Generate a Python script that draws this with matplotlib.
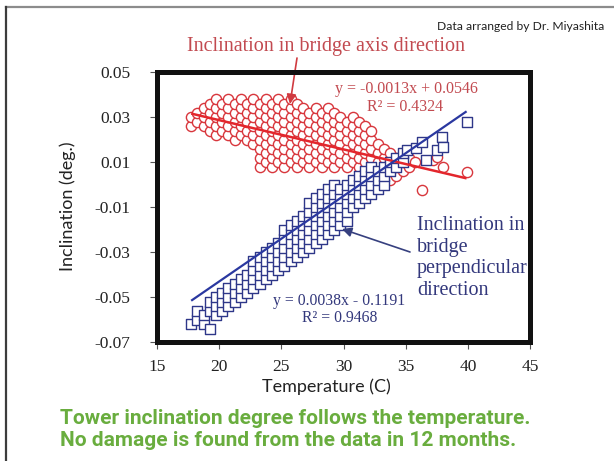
import matplotlib
matplotlib.use("Agg")
import matplotlib.pyplot as plt
from matplotlib.lines import Line2D
from matplotlib.ticker import FixedLocator, FixedFormatter

# Tower inclination readings against temperature (12 months of monitoring)

# Inclination in bridge axis direction
red_temp = [
    17.75, 17.75,
    18.25, 18.25,
    18.75, 18.75, 18.75,
    19.25, 19.25, 19.25, 19.25,
    19.75, 19.75, 19.75, 19.75, 19.75,
    20.25, 20.25, 20.25, 20.25,
    20.75, 20.75, 20.75, 20.75, 20.75,
    21.25, 21.25, 21.25, 21.25, 21.25,
    21.75, 21.75, 21.75, 21.75, 21.75,
    22.25, 22.25, 22.25, 22.25, 22.25,
    22.75, 22.75, 22.75, 22.75, 22.75, 22.75,
    23.25, 23.25, 23.25, 23.25, 23.25, 23.25, 23.25, 23.25,
    23.75, 23.75, 23.75, 23.75, 23.75, 23.75, 23.75, 23.75,
    24.25, 24.25, 24.25, 24.25, 24.25, 24.25, 24.25, 24.25,
    24.75, 24.75, 24.75, 24.75, 24.75, 24.75, 24.75, 24.75,
    25.25, 25.25, 25.25, 25.25, 25.25, 25.25, 25.25, 25.25,
    25.75, 25.75, 25.75, 25.75, 25.75, 25.75, 25.75, 25.75,
    26.25, 26.25, 26.25, 26.25, 26.25, 26.25, 26.25, 26.25,
    26.75, 26.75, 26.75, 26.75, 26.75, 26.75, 26.75,
    27.25, 27.25, 27.25, 27.25, 27.25, 27.25, 27.25,
    27.75, 27.75, 27.75, 27.75, 27.75, 27.75, 27.75,
    28.25, 28.25, 28.25, 28.25, 28.25, 28.25, 28.25,
    28.75, 28.75, 28.75, 28.75, 28.75, 28.75, 28.75,
    29.25, 29.25, 29.25, 29.25, 29.25, 29.25, 29.25,
    29.75, 29.75, 29.75, 29.75, 29.75, 29.75,
    30.25, 30.25, 30.25, 30.25, 30.25, 30.25,
    30.75, 30.75, 30.75, 30.75, 30.75, 30.75,
    31.25, 31.25, 31.25, 31.25, 31.25, 31.25,
    31.75, 31.75, 31.75, 31.75, 31.75, 31.75,
    32.25, 32.25, 32.25, 32.25, 32.25, 32.25,
    32.75, 32.75, 32.75, 32.75, 32.75,
    33.25, 33.25, 33.25, 33.25,
    33.75, 33.75, 33.75, 33.75,
    34.25, 34.25, 34.25,
    34.75, 34.75,
    35.25, 35.25,
    35.75,
    36.3, 37.2, 37.5, 38.0, 39.9,
]
red_incl = [
    0.026, 0.030,
    0.028, 0.032,
    0.026, 0.030, 0.034,
    0.024, 0.028, 0.032, 0.036,
    0.022, 0.026, 0.030, 0.034, 0.038,
    0.024, 0.028, 0.032, 0.036,
    0.022, 0.026, 0.030, 0.034, 0.038,
    0.020, 0.024, 0.028, 0.032, 0.036,
    0.022, 0.026, 0.030, 0.034, 0.038,
    0.020, 0.024, 0.028, 0.032, 0.036,
    0.018, 0.022, 0.026, 0.030, 0.034, 0.038,
    0.008, 0.012, 0.016, 0.020, 0.024, 0.028, 0.032, 0.036,
    0.010, 0.014, 0.018, 0.022, 0.026, 0.030, 0.034, 0.038,
    0.008, 0.012, 0.016, 0.020, 0.024, 0.028, 0.032, 0.036,
    0.010, 0.014, 0.018, 0.022, 0.026, 0.030, 0.034, 0.038,
    0.008, 0.012, 0.016, 0.020, 0.024, 0.028, 0.032, 0.036,
    0.010, 0.014, 0.018, 0.022, 0.026, 0.030, 0.034, 0.038,
    0.008, 0.012, 0.016, 0.020, 0.024, 0.028, 0.032, 0.036,
    0.010, 0.014, 0.018, 0.022, 0.026, 0.030, 0.034,
    0.008, 0.012, 0.016, 0.020, 0.024, 0.028, 0.032,
    0.010, 0.014, 0.018, 0.022, 0.026, 0.030, 0.034,
    0.008, 0.012, 0.016, 0.020, 0.024, 0.028, 0.032,
    0.010, 0.014, 0.018, 0.022, 0.026, 0.030, 0.034,
    0.008, 0.012, 0.016, 0.020, 0.024, 0.028, 0.032,
    0.010, 0.014, 0.018, 0.022, 0.026, 0.030,
    0.008, 0.012, 0.016, 0.020, 0.024, 0.028,
    0.010, 0.014, 0.018, 0.022, 0.026, 0.030,
    0.008, 0.012, 0.016, 0.020, 0.024, 0.028,
    0.006, 0.010, 0.014, 0.018, 0.022, 0.026,
    0.004, 0.008, 0.012, 0.016, 0.020, 0.024,
    0.002, 0.006, 0.010, 0.014, 0.018,
    0.004, 0.008, 0.012, 0.016,
    0.002, 0.006, 0.010, 0.014,
    0.004, 0.008, 0.012,
    0.006, 0.010,
    0.008, 0.012,
    0.010,
    -0.0024, 0.0109, 0.0122, 0.0078, 0.0056,
]

# Inclination in bridge perpendicular direction
blue_temp = [
    17.75,
    18.25, 18.25,
    18.75, 18.75,
    19.25, 19.25, 19.25,
    19.75, 19.75, 19.75,
    20.25, 20.25, 20.25,
    20.75, 20.75, 20.75,
    21.25, 21.25, 21.25,
    21.75, 21.75, 21.75,
    22.25, 22.25, 22.25,
    22.75, 22.75, 22.75, 22.75,
    23.25, 23.25, 23.25, 23.25,
    23.75, 23.75, 23.75, 23.75,
    24.25, 24.25, 24.25, 24.25,
    24.75, 24.75, 24.75, 24.75,
    25.25, 25.25, 25.25, 25.25, 25.25,
    25.75, 25.75, 25.75, 25.75, 25.75,
    26.25, 26.25, 26.25, 26.25, 26.25,
    26.75, 26.75, 26.75, 26.75, 26.75,
    27.25, 27.25, 27.25, 27.25, 27.25, 27.25,
    27.75, 27.75, 27.75, 27.75, 27.75, 27.75,
    28.25, 28.25, 28.25, 28.25, 28.25, 28.25,
    28.75, 28.75, 28.75, 28.75, 28.75, 28.75,
    29.25, 29.25, 29.25, 29.25, 29.25, 29.25,
    29.75, 29.75, 29.75, 29.75, 29.75,
    30.25, 30.25, 30.25, 30.25, 30.25,
    30.75, 30.75, 30.75, 30.75,
    31.25, 31.25, 31.25, 31.25,
    31.75, 31.75, 31.75, 31.75,
    32.25, 32.25, 32.25, 32.25,
    32.75, 32.75, 32.75,
    33.25, 33.25, 33.25,
    33.75, 33.75,
    34.25, 34.25,
    34.75, 34.75,
    35.1, 35.8, 36.3, 36.6, 37.5, 37.9, 38.0, 39.9,
]
blue_incl = [
    -0.062,
    -0.060, -0.056,
    -0.062, -0.058,
    -0.064, -0.056, -0.052,
    -0.058, -0.054, -0.050,
    -0.056, -0.052, -0.048,
    -0.054, -0.050, -0.046,
    -0.052, -0.048, -0.044,
    -0.050, -0.046, -0.042,
    -0.048, -0.044, -0.040,
    -0.046, -0.042, -0.038, -0.034,
    -0.044, -0.040, -0.036, -0.032,
    -0.042, -0.038, -0.034, -0.030,
    -0.040, -0.036, -0.032, -0.028,
    -0.038, -0.034, -0.030, -0.026,
    -0.036, -0.032, -0.028, -0.024, -0.020,
    -0.034, -0.030, -0.026, -0.022, -0.018,
    -0.032, -0.028, -0.024, -0.020, -0.016,
    -0.030, -0.026, -0.022, -0.018, -0.014,
    -0.028, -0.024, -0.020, -0.016, -0.012, -0.008,
    -0.026, -0.022, -0.018, -0.014, -0.010, -0.006,
    -0.024, -0.020, -0.016, -0.012, -0.008, -0.004,
    -0.022, -0.018, -0.014, -0.010, -0.006, -0.002,
    -0.020, -0.016, -0.012, -0.008, -0.004, 0.000,
    -0.018, -0.014, -0.010, -0.006, -0.002,
    -0.016, -0.012, -0.008, -0.004, 0.000,
    -0.010, -0.006, -0.002, 0.002,
    -0.008, -0.004, 0.000, 0.004,
    -0.006, -0.002, 0.002, 0.006,
    -0.004, 0.000, 0.004, 0.008,
    -0.002, 0.002, 0.006,
    0.000, 0.004, 0.008,
    0.006, 0.010,
    0.008, 0.012,
    0.010, 0.014,
    0.0153, 0.0162, 0.0189, 0.0109, 0.0153, 0.0211, 0.0167, 0.0278,
]

# Linear trend lines (slope, intercept, R^2)
red_slope, red_intercept, red_r2 = -0.0013, 0.0546, 0.4324
blue_slope, blue_intercept, blue_r2 = 0.0038, -0.1191, 0.9468

x_ticks = [15, 20, 25, 30, 35, 40, 45]
x_tick_labels = ["15", "20", "25", "30", "35", "40", "45"]
y_ticks = [0.05, 0.03, 0.01, -0.01, -0.03, -0.05, -0.07]
y_tick_labels = ["0.05", "0.03", "0.01", "-0.01", "-0.03", "-0.05", "-0.07"]

W, H = 614, 461
RED = "#d8363c"
RED_TXT = "#c24a50"
NAVY = "#2e3789"
NAVY_TXT = "#33387c"
GREEN = "#69ad3e"
SERIF = "Liberation Serif"


def fx(px):
    return px / W


def fy(py):
    return 1 - py / H


fig = plt.figure(figsize=(W / 100, H / 100), dpi=100)
fig.patch.set_facecolor("white")

ax = fig.add_axes([fx(157), fy(342), fx(530) - fx(157), fy(72) - fy(342)])
ax.set_xlim(15, 45)
ax.set_ylim(-0.07, 0.05)

ax.scatter(red_temp, red_incl, s=54, marker="o", facecolors="white",
           edgecolors=RED, linewidths=1.0, zorder=3)
ax.scatter(blue_temp, blue_incl, s=42, marker="s", facecolors="white",
           edgecolors=NAVY, linewidths=1.0, zorder=3)

red_x = [min(red_temp), max(red_temp)]
ax.plot(red_x, [red_slope * t + red_intercept for t in red_x],
        color="#e3262c", lw=1.8, zorder=4, solid_capstyle="butt")
blue_x = [min(blue_temp), max(blue_temp)]
ax.plot(blue_x, [blue_slope * t + blue_intercept for t in blue_x],
        color="#2a38a0", lw=1.6, zorder=4, solid_capstyle="butt")

for sp in ax.spines.values():
    sp.set_linewidth(3.6)
    sp.set_color("#111111")
    sp.set_zorder(6)

ax.xaxis.set_major_locator(FixedLocator(x_ticks))
ax.xaxis.set_major_formatter(FixedFormatter(x_tick_labels))
ax.yaxis.set_major_locator(FixedLocator(y_ticks))
ax.yaxis.set_major_formatter(FixedFormatter(y_tick_labels))
ax.tick_params(direction="out", length=5, width=0.8, color="#555555",
               labelsize=12.5, labelcolor="#222222")
ax.tick_params(axis="y", pad=14)
ax.tick_params(axis="x", pad=7)
for lab in ax.get_xticklabels() + ax.get_yticklabels():
    lab.set_family(SERIF)

# Series annotations
fig.text(fx(326), fy(47), "Inclination in bridge axis direction",
         ha="center", va="center", family=SERIF, size=14.5, color=RED_TXT)
ax.annotate("", xy=(290, H - 104), xycoords="figure pixels",
            xytext=(297, H - 58), textcoords="figure pixels",
            arrowprops=dict(arrowstyle="-|>", color="#d03a40", lw=1.2,
                            mutation_scale=14, shrinkA=0, shrinkB=0),
            zorder=5)

fig.text(fx(406), fy(89), "y = -0.0013x + 0.0546",
         ha="center", va="center", family=SERIF, size=11.5, color=RED_TXT)
fig.text(fx(405), fy(107), f"R\u00b2 = {red_r2:.4f}",
         ha="center", va="center", family=SERIF, size=11.5, color=RED_TXT)

fig.text(fx(339), fy(301), "y = 0.0038x - 0.1191",
         ha="center", va="center", family=SERIF, size=11.3, color=NAVY_TXT)
fig.text(fx(340), fy(318), f"R\u00b2 = {blue_r2:.4f}",
         ha="center", va="center", family=SERIF, size=11.3, color=NAVY_TXT)

for line, py in zip(["Inclination in", "bridge", "perpendicular", "direction"],
                    [225, 247, 268, 290]):
    fig.text(fx(417), fy(py), line, ha="left", va="center",
             family=SERIF, size=14.5, color=NAVY_TXT, zorder=2)
ax.annotate("", xy=(342, H - 229), xycoords="figure pixels",
            xytext=(410, H - 252), textcoords="figure pixels",
            arrowprops=dict(arrowstyle="-|>", color="#36407f", lw=1.2,
                            mutation_scale=14, shrinkA=0, shrinkB=0),
            zorder=5)

# Axis titles
fig.text(fx(68), fy(206), "Inclination (deg.)", rotation=90,
         ha="center", va="center", family="Lato", size=13, color="#222222")
fig.text(fx(326), fy(387), "Temperature (C)", ha="center", va="center",
         family="Lato", size=13, color="#222222")

fig.text(fx(604), fy(27), "Data arranged by Dr. Miyashita", ha="right",
         va="center", family="Lato", size=8.7, color="#222222")

fig.text(fx(60), fy(418), "Tower inclination degree follows the temperature.",
         ha="left", va="center", family="Roboto", weight="bold", size=15,
         color=GREEN)
fig.text(fx(60), fy(440), "No damage is found from the data in 12 months.",
         ha="left", va="center", family="Roboto", weight="bold", size=15,
         color=GREEN)

# Slide border
fig.add_artist(Line2D([fx(6), 1], [fy(7), fy(7)], color="#8c8c8c", lw=1.6))
fig.add_artist(Line2D([fx(6), fx(6)], [0, fy(7)], color="#3c3c3c", lw=1.6))

fig.savefig("out.png", dpi=100)
